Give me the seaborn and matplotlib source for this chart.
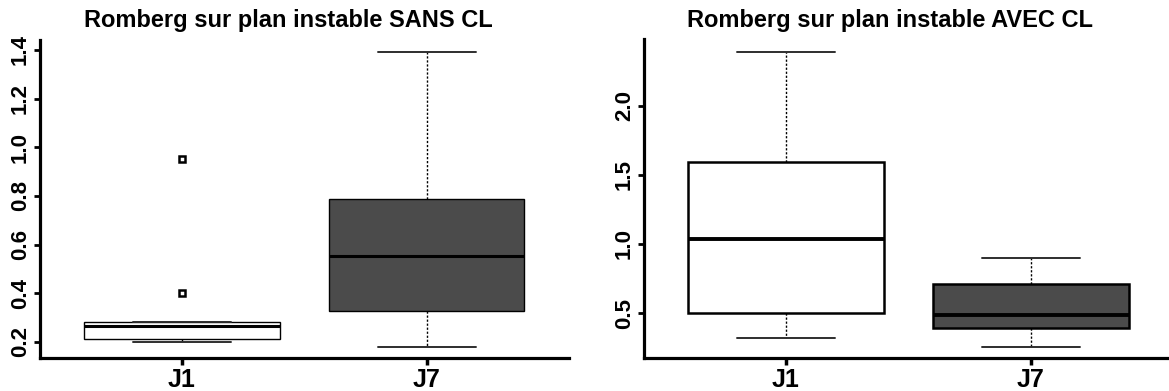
import matplotlib
matplotlib.use("Agg")
import matplotlib.pyplot as plt
import seaborn as sns
import pandas as pd
from matplotlib.ticker import FormatStrFormatter

jours = ["J1", "J7"]
sans_j1 = [0.199, 0.205, 0.212, 0.24, 0.267, 0.275, 0.283, 0.403, 0.951]
sans_j7 = [0.181, 0.327, 0.553, 0.786, 1.393]
avec_j1 = [0.321, 0.502, 1.034, 1.596, 2.393]
avec_j7 = [0.256, 0.394, 0.486, 0.708, 0.896]

sans_ticks = [0.2, 0.4, 0.6, 0.8, 1.0, 1.2, 1.4]
avec_ticks = [0.5, 1.0, 1.5, 2.0]

titles = ["Romberg sur plan instable SANS CL", "Romberg sur plan instable AVEC CL"]
colors = {"J1": "white", "J7": "#4b4b4b"}


def to_df(j1, j7):
    return pd.DataFrame({
        "Jour": ["J1"] * len(j1) + ["J7"] * len(j7),
        "Valeur": j1 + j7,
    })


sns.set_style("ticks")
plt.rcParams["font.family"] = ["Liberation Sans", "DejaVu Sans"]
plt.rcParams["font.weight"] = "bold"
for key in ["text.color", "axes.labelcolor", "xtick.color", "ytick.color"]:
    plt.rcParams[key] = "black"

W, H = 1169, 391
fig = plt.figure(figsize=(W / 100, H / 100), dpi=100)
ax1 = fig.add_axes([40 / W, 33 / H, (568.5 - 40) / W, (358 - 40) / H])
ax2 = fig.add_axes([644 / W, 33 / H, (1173 - 644) / W, (358 - 39.3) / H])

panels = [
    (ax1, to_df(sans_j1, sans_j7), sans_ticks, (0.134, 1.441), 1.0, 2.2, 0.47),
    (ax2, to_df(avec_j1, avec_j7), avec_ticks, (0.174, 2.483), 1.8, 2.8, 0.465),
]

for i, (ax, df, ticks, ylim, box_lw, med_lw, title_x) in enumerate(panels):
    sns.boxplot(data=df, x="Jour", y="Valeur", hue="Jour", palette=colors,
                order=jours, hue_order=jours, saturation=1, width=0.8,
                linecolor="black", linewidth=box_lw, legend=False, ax=ax,
                medianprops=dict(color="black", linewidth=med_lw),
                whiskerprops=dict(color="black", linewidth=1.0, linestyle=(0, (1.6, 1.3))),
                capprops=dict(color="#2e2e2e", linewidth=1.4),
                flierprops=dict(marker="s", markersize=4.5, markerfacecolor="white",
                                markeredgecolor="black", markeredgewidth=1.8))
    ax.set_xlim(-0.58, 1.58)
    ax.set_ylim(*ylim)
    ax.set_yticks(ticks)
    ax.yaxis.set_major_formatter(FormatStrFormatter("%.1f"))
    ax.set_xlabel("")
    ax.set_ylabel("")
    ax.set_title(titles[i], fontsize=17, fontweight="bold", x=title_x, pad=9,
                 color="black")
    sns.despine(ax=ax)
    for side in ["left", "bottom"]:
        ax.spines[side].set_linewidth(2.3)
        ax.spines[side].set_color("black")
    ax.tick_params(axis="y", length=4, width=2, pad=2.5, labelsize=16, rotation=90,
                   colors="black")
    ax.tick_params(axis="x", length=5, width=2.5, pad=2, labelsize=18, colors="black")
    for lab in ax.get_yticklabels():
        lab.set_verticalalignment("center")
        lab.set_fontweight("bold")
    for lab in ax.get_xticklabels():
        lab.set_fontweight("bold")

fig.savefig("out.png", dpi=100)
